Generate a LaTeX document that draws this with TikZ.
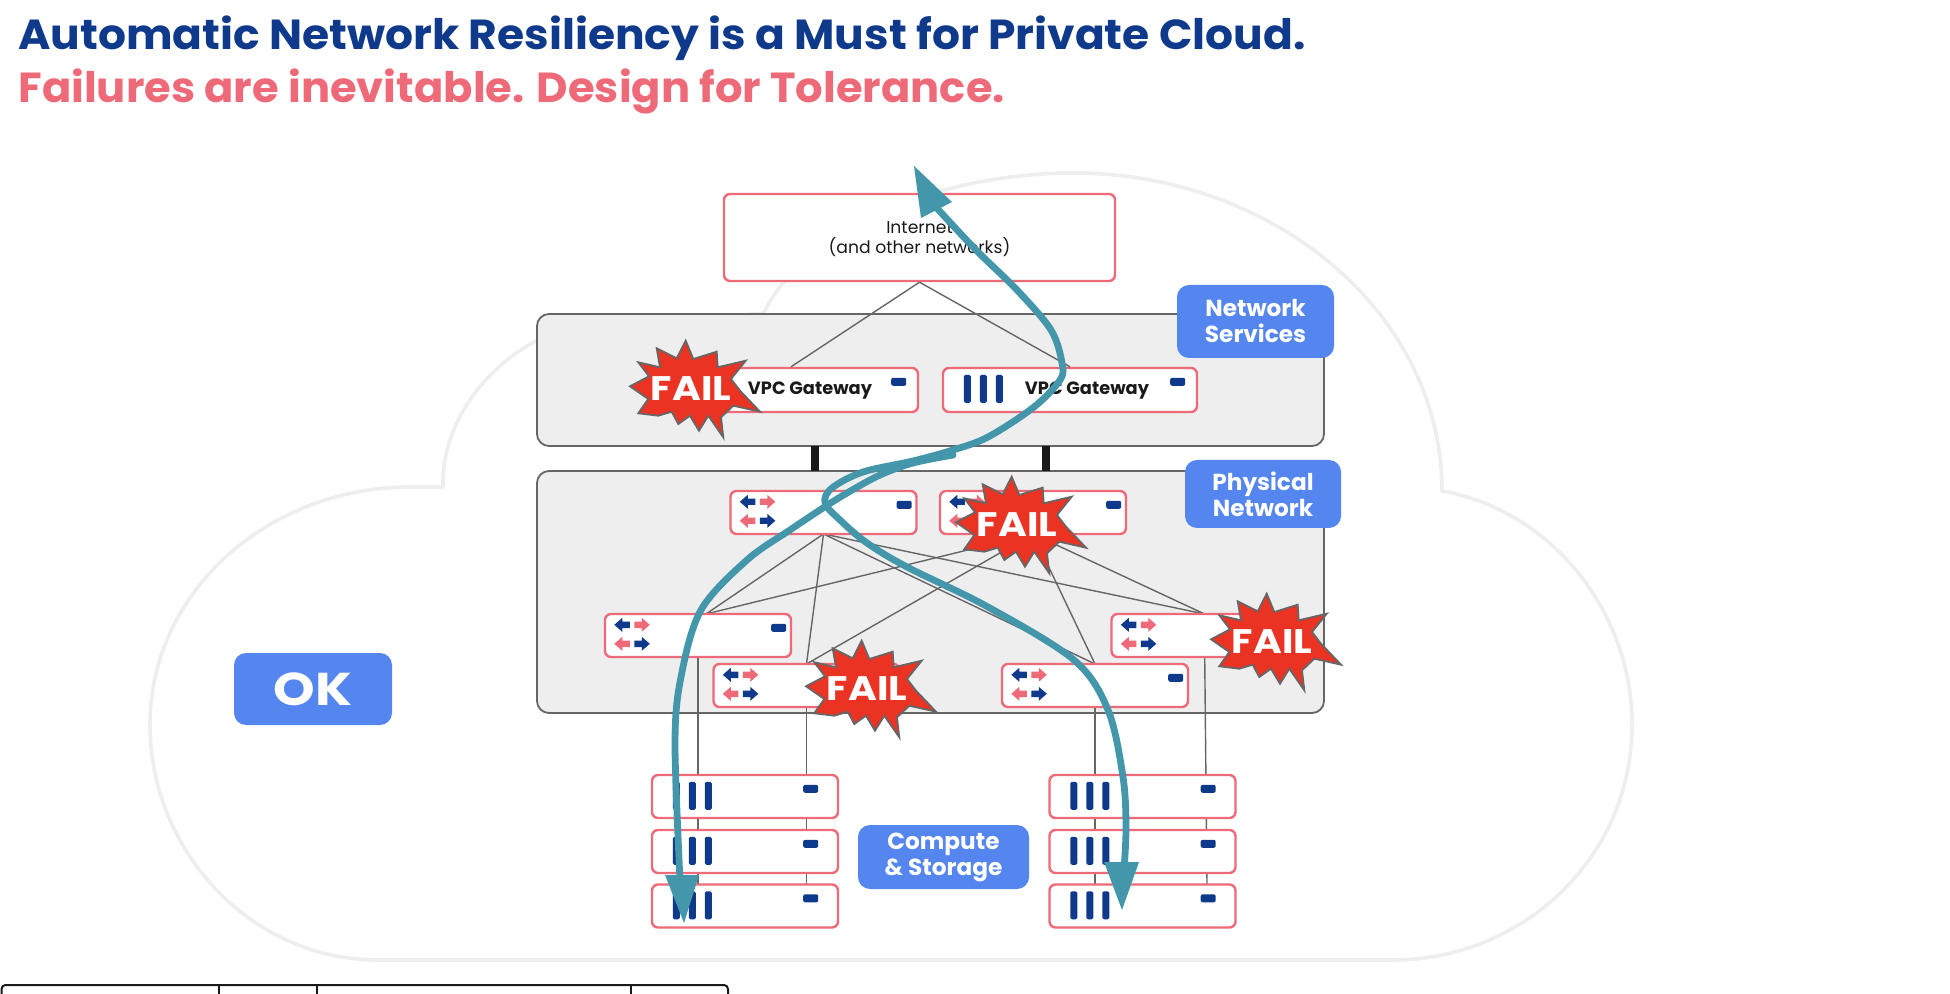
\documentclass[tikz,border=0pt]{standalone}
\usepackage{fontspec}
\setmainfont{Poppins}
\usetikzlibrary{calc}
\definecolor{navy}{HTML}{0F3A8C}
\definecolor{rose}{HTML}{EE6A78}
\definecolor{tagblue}{HTML}{5586F0}
\definecolor{teal2}{HTML}{4496AB}
\definecolor{burstred}{HTML}{EA3323}
\definecolor{panelgrey}{HTML}{EEEEEE}
\definecolor{linkgrey}{HTML}{666666}
\definecolor{inkdark}{HTML}{1A1A1A}
\tikzset{
  unitbox/.style={draw=rose,fill=white,line width=1.2pt,rounded corners=3pt,inner sep=0pt,
    minimum width=93pt,minimum height=21.5pt},
  gatebox/.style={unitbox,minimum width=127pt,minimum height=22pt},
  gatetext/.style={font=\bfseries\fontsize{8.9}{11}\selectfont,text=inkdark,inner sep=0pt},
  panel/.style={draw=linkgrey,fill=panelgrey,line width=.9pt,rounded corners=6pt},
  tagbox/.style={fill=tagblue,rounded corners=6pt,inner sep=0pt},
  tagtext/.style={text=white,align=center,inner sep=0pt,
    font=\bfseries\fontsize{11.6}{13}\selectfont},
  link/.style={draw=linkgrey,line width=.7pt},
  route/.style={draw=teal2,line width=3.4pt,line cap=round,line join=round},
  routehead/.style={fill=teal2,draw=none},
  burst/.style={fill=burstred,draw=linkgrey,line width=.9pt,line join=miter},
  failtext/.style={text=white,font=\bfseries\fontsize{17}{18}\selectfont,inner sep=0pt},
  title/.style={anchor=base west,inner sep=0pt,font=\bfseries\fontsize{21}{24}\selectfont},
  ledmark/.style={fill=navy,rounded corners=1pt,draw=none},
}
% status LED of a unit, placed from the top right corner
\newcommand\ledmark[3]{\fill[ledmark] ($(#1.north east)+(#2,#3)$) rectangle ++(15,8);}
% three drive bars of a server or gateway
\newcommand\drivebars[1]{%
  \foreach \dx in {22,38,54}{\fill[navy,rounded corners=.8pt]
    ($(#1.north west)+(\dx,8)$) rectangle ++(7,28);}}
% one small horizontal arrow: origin, direction (+1/-1), colour
\newcommand\tinyarrow[5]{%
  \begin{scope}[shift={($(#1.north west)+(#2,#3)$)},xscale=#4]
    \fill[#5] (-7.5,-3.2) -- (0,-3.2) -- (0,-7) -- (8,0) -- (0,7) -- (0,3.2) -- (-7.5,3.2) -- cycle;
  \end{scope}}
\newcommand\switchunit[3]{%
  \node[unitbox] (#1) at (#2,#3) {};
  \tinyarrow{#1}{18.5}{12}{-1}{navy}
  \tinyarrow{#1}{38}{12}{1}{rose}
  \tinyarrow{#1}{18.5}{31}{-1}{rose}
  \tinyarrow{#1}{38}{31}{1}{navy}
  \ledmark{#1}{-21}{11}}
\newcommand\serverunit[3]{%
  \node[unitbox] (#1) at (#2,#3) {};
  \drivebars{#1}
  \ledmark{#1}{-36}{11}}
\newcommand\burstfail[3]{%
  \begin{scope}[shift={(#2,#3)}]
    \path[burst] (-5.3,-48.3) -- (2.3,-30) -- (25.7,-37.3) -- (26.7,-21.7) -- (54.7,-28.3)
      -- (40,-10) -- (49,1.7) -- (69,22.7) -- (42.3,16.7) -- (30,28.3) -- (32.3,48.3)
      -- (17.3,26.7) -- (8,41.7) -- (-1,26.7) -- (-12.7,35) -- (-19.3,22.7) -- (-32.7,26.7)
      -- (-52.7,24.3) -- (-42.7,10) -- (-61,-2.7) -- (-42,-12.7) -- (-52.7,-26.7)
      -- (-31,-21.7) -- (-34.3,-40.7) -- (-14.3,-30.7) -- cycle;
    \node[failtext] (#1) at (0,0) {\scalebox{1.15}[1]{FAIL}};
  \end{scope}}
% coloured tag: name, centre x, y, width, height (pt), text
\newcommand\layertag[6]{%
  \node[tagbox,minimum width=#4pt,minimum height=#5pt] (#1) at (#2,#3) {};
  \node[tagtext] (#1txt) at (#2,#3) {#6};}
\begin{document}
\begin{tikzpicture}[x=.5pt,y=-.5pt]
\useasboundingbox (0,0) rectangle (1950,994);
\fill[white] (0,0) rectangle (1950,994);

% headline
\node[title,text=navy] (head1) at (18,50) {\scalebox{1.047}[1]{Automatic Network Resiliency is a Must for Private Cloud.}};
\node[title,text=rose] (head2) at (18,103) {\scalebox{1.03}[1]{Failures are inevitable. Design for Tolerance.}};

% cloud outline
\draw[panelgrey,line width=1.8pt,line join=round]
  (378,960) .. controls (250,960) and (150,850) .. (150,725)
  .. controls (150,590) and (270,487) .. (410,487) -- (443,487) -- (443,478)
  .. controls (445,425) and (480,372) .. (534,342)
  .. controls (600,310) and (700,320) .. (764,313)
  .. controls (800,235) and (930,173) .. (1074,173)
  .. controls (1270,173) and (1442,310) .. (1442,491)
  .. controls (1550,510) and (1632,610) .. (1632,725)
  .. controls (1632,860) and (1520,960) .. (1393,960) -- cycle;

% table edge at the foot of the page
\draw[inkdark,line width=1pt,rounded corners=2pt] (1.5,994) -- (1.5,985) -- (728,985) -- (728,994);
\draw[inkdark,line width=1pt] (219,985) -- (219,994) (317,985) -- (317,994) (631,985) -- (631,994);

% layer panels and their ties
\path[panel] (537,314) rectangle (1324,446);
\path[panel] (537,471) rectangle (1324,713);
\coordinate (tieAtop) at (815,446); \coordinate (tieAbot) at (815,471);
\coordinate (tieBtop) at (1046,446); \coordinate (tieBbot) at (1046,471);
\draw[inkdark,line width=4pt] (tieAtop) -- (tieAbot) (tieBtop) -- (tieBbot);

\path (791,390) coordinate (gA) (1070,390) coordinate (gB);
\path (823.5,512.5) coordinate (spA) (1033,512.5) coordinate (spB)
      (698,635.5) coordinate (lfA) (806.5,685.5) coordinate (lfB)
      (1095,685.5) coordinate (lfC) (1204.5,635.5) coordinate (lfD);

% links
\begin{scope}[link]
  \foreach \s in {spA,spB}{
    \draw ($(\s)+(0,21.5)$) -- ($(lfA)+(8,-21.5)$);
    \draw ($(\s)+(0,21.5)$) -- ($(lfB)+(0,-21.5)$);
    \draw ($(\s)+(0,21.5)$) -- ($(lfC)+(0,-21.5)$);
    \draw ($(\s)+(0,21.5)$) -- ($(lfD)+(0,-21.5)$);
  }
  \draw (lfA) -- (lfA |- 0,884);
  \draw (lfB) -- (lfB |- 0,884);
  \draw (lfC) -- (lfC |- 0,884);
  \draw (lfD) -- (1207,884);
\end{scope}

% internet box and gateways
\node[unitbox,minimum width=195.5pt,minimum height=43.5pt] (inet) at (919.5,237.5) {};
\node[align=center,text=inkdark,inner sep=0pt,font=\fontsize{8.6}{10.2}\selectfont]
  (inettxt) at (919.5,239) {Internet\\(and other networks)};
\node[gatebox] (gw1) at (gA) {};
\node[gatebox] (gw2) at (gB) {};
\draw[link] (inet.south) -- (gw1.north);
\draw[link] (inet.south) -- (gw2.north);
\drivebars{gw1}\drivebars{gw2}
\ledmark{gw1}{-28}{11}\ledmark{gw2}{-28}{11}
\node[gatetext] (gw1txt) at (810,391) {VPC Gateway};
\node[gatetext] (gw2txt) at (1087,391) {VPC Gateway};

% physical network switches
\switchunit{sw1}{823.5}{512.5}
\switchunit{sw2}{1033}{512.5}
\switchunit{sw3}{698}{635.5}
\switchunit{sw4}{806.5}{685.5}
\switchunit{sw5}{1095}{685.5}
\switchunit{sw6}{1204.5}{635.5}

% compute and storage racks
\foreach \n/\yy in {1/796.5,2/851.5,3/906}{
  \serverunit{la\n}{745}{\yy}
  \serverunit{ra\n}{1142.5}{\yy}
}

% layer tags
\layertag{tagNet}{1255.5}{321.5}{78.5}{36.5}{Network\\Services}
\layertag{tagPhy}{1263}{494}{78}{34}{Physical\\Network}
\layertag{tagCmp}{943.5}{857}{85.5}{32}{Compute\\\&\ Storage}
\node[tagbox,minimum width=79pt,minimum height=36pt] (tagOk) at (313,689) {};
\node[tagtext,font=\bfseries\fontsize{23}{26}\selectfont] (tagOktxt) at (313,689) {\scalebox{1.15}[1]{OK}};

% failures
\burstfail{f1}{691}{389}
\burstfail{f2}{1017}{525}
\burstfail{f3}{867}{689}
\burstfail{f4}{1272}{642}

% traffic routes around the failed units
\draw[route] plot[smooth,tension=.55] coordinates {
  (934,205) (976,250) (1017,290) (1051,330) (1062,363) (1060,380) (1034,407) (988,437)
  (953,450) (913,461) (863,472) (832,488) (825,503) (840,520) (867,543) (907,567)
  (988,607) (1074,660) (1108,710) (1123,777) (1126,827) (1124,870)};
\draw[route] plot[smooth,tension=.55] coordinates {
  (953,455) (913,463) (880,475) (847,493) (823,508) (790,530) (747,560) (701,610)
  (681,677) (675,743) (680,880)};
\fill[routehead] (985,440) -- (953,447) -- (955,458) -- (925,462) -- cycle;
\fill[routehead] (914,166) -- (952,202) -- (921,218) -- cycle;
\fill[routehead] (684,923) -- (665,875) -- (699,875) -- cycle;
\fill[routehead] (1122,910) -- (1104,862) -- (1139,862) -- cycle;
\end{tikzpicture}
\end{document}
